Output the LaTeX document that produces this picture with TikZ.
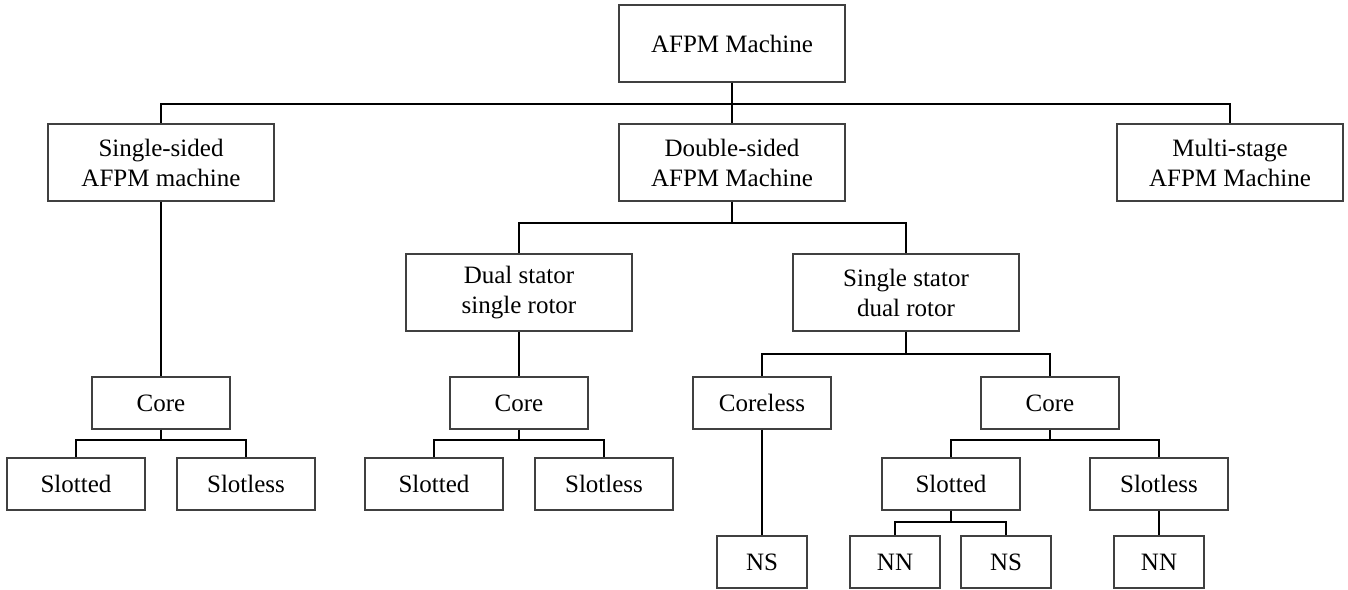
\documentclass[tikz,border=0pt]{standalone}
\usepackage{fontspec}
\setmainfont{Liberation Serif}
\begin{document}
\begin{tikzpicture}[x=1pt,y=-1pt,
  box/.style={draw=black!75,line width=1.1pt,fill=white,align=center,
    font=\fontsize{25}{30}\selectfont,inner sep=0pt},
  wide/.style={box,minimum width=226pt,minimum height=77pt},
  mid/.style={box,minimum width=138pt,minimum height=52pt},
  tiny/.style={box,minimum width=90pt,minimum height=52pt},
  link/.style={draw=black,line width=1.7pt}]
\useasboundingbox (0,0) rectangle (1348,589);

% bus levels of the tree
\coordinate (b1) at (0,104);
\coordinate (b2) at (0,223);
\coordinate (b3) at (0,354);
\coordinate (b4) at (0,440);
\coordinate (b5) at (0,522);

% top level
\node[wide] (afpm) at (732,43.5) {AFPM Machine};
\node[wide] (single) at (161,162.5) {Single-sided\\AFPM machine};
\node[wide] (double) at (732,162.5) {Double-sided\\AFPM Machine};
\node[wide] (multi) at (1230,162.5) {Multi-stage\\AFPM Machine};

% double-sided branches
\node[wide] (dual) at (519,292.5) {Dual stator\\single rotor};
\node[wide] (sstat) at (906,292.5) {Single stator\\dual rotor};

% single-sided core
\node[mid] (core1) at (161,403) {Core};
\node[mid] (slot1) at (76,484) {Slotted};
\node[mid] (sless1) at (246,484) {Slotless};

% dual stator core
\node[mid] (core2) at (519,403) {Core};
\node[mid] (slot2) at (434,484) {Slotted};
\node[mid] (sless2) at (604,484) {Slotless};

% single stator branches
\node[mid] (coreless) at (762,403) {Coreless};
\node[mid] (core3) at (1050,403) {Core};
\node[mid] (slot3) at (951,484) {Slotted};
\node[mid] (sless3) at (1159,484) {Slotless};

% magnet arrangements
\node[tiny] (ns1) at (762,562) {NS};
\node[tiny] (nn1) at (895,562) {NN};
\node[tiny] (ns2) at (1006,562) {NS};
\node[tiny] (nn2) at (1159,562) {NN};

% tree connectors
\foreach \c in {single,double,multi}
  \draw[link] (afpm.south) -- (afpm.south |- b1) -| (\c.north);
\foreach \c in {dual,sstat}
  \draw[link] (double.south) -- (double.south |- b2) -| (\c.north);
\draw[link] (single.south) -- (core1.north);
\foreach \c in {slot1,sless1}
  \draw[link] (core1.south) -- (core1.south |- b4) -| (\c.north);
\draw[link] (dual.south) -- (core2.north);
\foreach \c in {slot2,sless2}
  \draw[link] (core2.south) -- (core2.south |- b4) -| (\c.north);
\foreach \c in {coreless,core3}
  \draw[link] (sstat.south) -- (sstat.south |- b3) -| (\c.north);
\foreach \c in {slot3,sless3}
  \draw[link] (core3.south) -- (core3.south |- b4) -| (\c.north);
\draw[link] (coreless.south) -- (ns1.north);
\foreach \c in {nn1,ns2}
  \draw[link] (slot3.south) -- (slot3.south |- b5) -| (\c.north);
\draw[link] (sless3.south) -- (nn2.north);
\end{tikzpicture}
\end{document}
